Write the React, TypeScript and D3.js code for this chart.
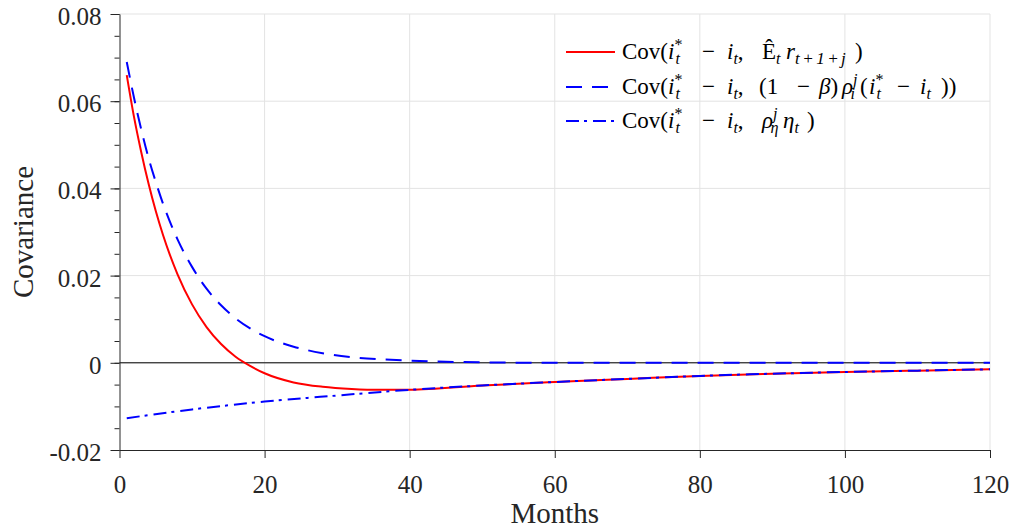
import React, { useRef, useEffect } from "react";
import * as d3 from "d3";

// months (horizon j) and covariances
const months = [1, 2, 3, 4, 5, 6, 8, 10, 12, 14, 16, 18, 20, 24, 28, 32, 36, 40, 50, 60, 70, 80, 90, 100, 110, 120];
const covExpRate = [0.066, 0.0564, 0.0483, 0.0411, 0.0348, 0.0293, 0.0203, 0.0134, 0.0082, 0.0043, 0.0014, -0.0007, -0.0024, -0.0045, -0.0055, -0.006, -0.0062, -0.0062, -0.0052, -0.0044, -0.0037, -0.003, -0.0025, -0.0021, -0.0018, -0.0015];
const covRateGap = [0.069, 0.0608, 0.0535, 0.047, 0.0415, 0.0365, 0.0283, 0.022, 0.017, 0.0132, 0.0102, 0.0079, 0.0061, 0.0037, 0.0022, 0.0013, 0.0008, 0.0005, 0.0001, 0, 0, 0, 0, 0, 0, 0];
const shockMonths = [1, 10, 20, 30, 40, 50, 60, 70, 80, 90, 100, 110, 120];
const covShock = [-0.0127, -0.0107, -0.0089, -0.0075, -0.0062, -0.0052, -0.0044, -0.0037, -0.003, -0.0025, -0.0021, -0.0018, -0.0015];

const xTicks = [0, 20, 40, 60, 80, 100, 120];
const yTicks = [-0.02, 0, 0.02, 0.04, 0.06, 0.08];
const yTickLabels = ["-0.02", "0", "0.02", "0.04", "0.06", "0.08"];
const yMinorTicks = d3.range(-0.02, 0.0801, 0.005);

const W = 1015;
const H = 531;
const FONT = "'Liberation Serif', 'Times New Roman', serif";
const AX = "#262626";

const x = d3.scaleLinear().domain([0, 120]).range([119.5, 990]);
const y = d3.scaleLinear().domain([-0.02, 0.08]).range([450, 14]);

// legend pieces: [text, style, absolute x?]; style n normal, i italic, sp super, sb sub, st sub stacked under super
type Seg = [string, string, number?];
const prefix: Seg[] = [["Cov(", "n", 622], ["i", "i", 668], ["*", "sp"], ["t", "st"], ["−", "n", 702], ["i", "i", 727], ["t", "sb"], [",", "n"]];
const legendRows: { color: string; dash: string; segs: Seg[] }[] = [
  {
    color: "#ff0000",
    dash: "none",
    segs: [...prefix, ["Ê", "n", 762], ["t", "sb"], ["r", "i", 786], ["t+1+j", "sb"], [")", "n", 855]],
  },
  {
    color: "#0000ff",
    dash: "16,10",
    segs: [...prefix, ["(1", "n", 759], ["−", "n", 797], ["β", "i", 819], [")", "n"], ["ρ", "i", 842], ["j", "sp"], ["i", "st"],
      ["(", "n", 860], ["i", "i", 869], ["*", "sp"], ["t", "st"], ["−", "n", 897], ["i", "i", 920], ["t", "sb"], ["))", "n", 941]],
  },
  {
    color: "#0000ff",
    dash: "13,5,3,6",
    segs: [...prefix, ["ρ", "i", 762], ["j", "sp"], ["η", "st"], ["η", "i", 783], ["t", "sb"], [")", "n", 807]],
  },
];

function MathText({ segs, y0 }: { segs: Seg[]; y0: number }) {
  let cur = 0;
  return (
    <text y={y0} fontFamily={FONT} fontSize={23} fill="#000">
      {segs.map(([t, s, ax], k) => {
        const target = s === "sp" ? -9 : s === "sb" || s === "st" ? 5 : 0;
        const dy = target - cur;
        cur = target;
        const small = s === "sp" || s === "sb" || s === "st";
        const italic = s !== "n" && t !== "*" ? "italic" : "normal";
        const spaced = small && t.length > 2;
        return (
          <tspan key={k} x={ax} dy={dy} dx={s === "st" ? -7 : 0} fontSize={small ? (spaced ? 17 : 16) : 23}
            fontStyle={italic} letterSpacing={spaced ? 2.5 : 0}>
            {t}
          </tspan>
        );
      })}
    </text>
  );
}

export default function App() {
  const gx = useRef<SVGGElement>(null);
  const gy = useRef<SVGGElement>(null);
  const gyMinor = useRef<SVGGElement>(null);

  useEffect(() => {
    const xAxis = d3.axisBottom(x).tickValues(xTicks).tickSize(8).tickSizeOuter(0).tickPadding(17)
      .tickFormat((d) => String(d));
    d3.select(gx.current).call(xAxis);
    const yAxis = d3.axisLeft(y).tickValues(yTicks).tickSize(9).tickSizeOuter(0).tickPadding(9)
      .tickFormat((d, i) => yTickLabels[i]);
    d3.select(gy.current).call(yAxis);
    const yMinor = d3.axisLeft(y).tickValues(yMinorTicks).tickSize(5).tickSizeOuter(0).tickFormat(() => "");
    d3.select(gyMinor.current).call(yMinor);

    [gx.current, gy.current, gyMinor.current].forEach((g) => {
      const s = d3.select(g);
      s.attr("font-family", FONT).attr("font-size", 25);
      s.selectAll("path,line").attr("stroke", AX);
      s.selectAll("text").attr("fill", AX);
    });
    d3.select(gy.current).selectAll("text").attr("dy", "0.42em");
    d3.select(gyMinor.current).select("path").remove();
  }, []);

  const line = d3.line<[number, number]>().x((d) => x(d[0])).y((d) => y(d[1])).curve(d3.curveMonotoneX);
  const redPts = months.map((m, i) => [m, covExpRate[i]] as [number, number]);
  const dashPts = months.map((m, i) => [m, covRateGap[i]] as [number, number]);
  const dotPts = shockMonths.map((m, i) => [m, covShock[i]] as [number, number]);

  return (
    <svg width={W} height={H} style={{ position: "absolute", left: 0, top: 0, background: "#fff" }}>
      <g stroke="#e3e3e3" strokeWidth={1}>
        {xTicks.slice(1).map((t) => (
          <line key={"gx" + t} x1={x(t)} x2={x(t)} y1={y(-0.02)} y2={y(0.08)} />
        ))}
        {yTicks.slice(1).map((t) => (
          <line key={"gy" + t} x1={x(0)} x2={x(120)} y1={y(t)} y2={y(t)} />
        ))}
      </g>
      <line x1={x(0)} x2={x(120)} y1={y(0)} y2={y(0)} stroke="#000" strokeWidth={1} />
      <path d={line(redPts) || ""} fill="none" stroke="#ff0000" strokeWidth={2} />
      <path d={line(dashPts) || ""} fill="none" stroke="#0000ff" strokeWidth={2} strokeDasharray="16,10" />
      <path d={line(dotPts) || ""} fill="none" stroke="#0000ff" strokeWidth={2} strokeDasharray="13,5,3,6" />
      <g ref={gyMinor} transform={`translate(${x(0)},0)`} />
      <g ref={gy} transform={`translate(${x(0)},0)`} />
      <g ref={gx} transform={`translate(0,${y(-0.02)})`} />
      <text x={(x(0) + x(120)) / 2} y={523} textAnchor="middle" fontFamily={FONT} fontSize={29} fill={AX}>
        Months
      </text>
      <text transform={`translate(33,${(y(0.08) + y(-0.02)) / 2}) rotate(-90)`} textAnchor="middle"
        fontFamily={FONT} fontSize={29} fill={AX}>
        Covariance
      </text>
      {legendRows.map((r, i) => {
        const cy = [52, 87, 121][i];
        return (
          <g key={i}>
            <line x1={566} x2={615} y1={cy} y2={cy} stroke={r.color} strokeWidth={2} strokeDasharray={r.dash} />
            <MathText segs={r.segs} y0={cy + 7} />
          </g>
        );
      })}
    </svg>
  );
}
